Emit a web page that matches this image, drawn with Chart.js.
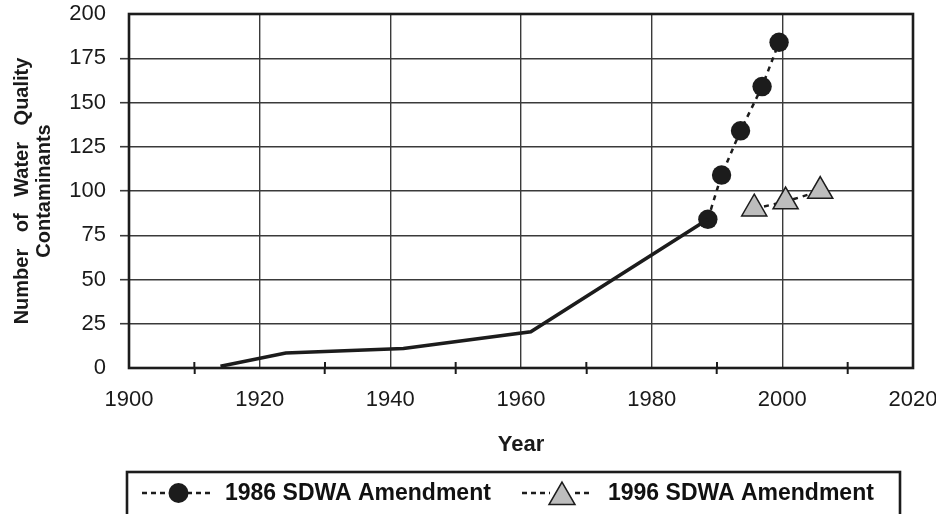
<!DOCTYPE html>
<html>
<head>
<meta charset="utf-8">
<script src="https://cdn.jsdelivr.net/npm/chart.js@4/dist/chart.umd.min.js"></script>
<style>
  html, body { margin: 0; padding: 0; background: #ffffff; }
  #wrap { width: 936px; height: 514px; }
</style>
</head>
<body>
<div id="wrap"><canvas id="c" width="936" height="514"></canvas></div>
<script>
// ---- data ----
const historyYears = [1914, 1924, 1942, 1961.5, 1988.6];
const historyCounts = [1, 8.5, 11, 20.5, 84];

const sdwa1986Years = [1988.6, 1990.7, 1993.6, 1996.9, 1999.5];
const sdwa1986Counts = [84, 109, 134, 159, 184];

const sdwa1996Years = [1995.7, 2000.5, 2005.8];
const sdwa1996Counts = [90, 94, 100];

const seriesNames = ['1986 SDWA Amendment', '1996 SDWA Amendment'];
const xTitle = 'Year';
const yTitle = ['Number of Water Quality', 'Contaminants'];
const xMin = 1900, xMax = 2020, xStep = 10, xLabelStep = 20;
const yMin = 0, yMax = 200, yStep = 25;

const pts = (xs, ys) => xs.map((x, i) => ({ x: x, y: ys[i] }));

const FONT = "'Liberation Sans', Arial, Helvetica, sans-serif";
const INK = '#1c1c1c';
const GRID = '#3a3a3a';

const framePlugin = {
  id: 'framePlugin',
  beforeDraw(chart) {
    chart.ctx.wordSpacing = '11px';
  },
  beforeDatasetsDraw(chart) {
    const ctx = chart.ctx;
    ctx.wordSpacing = '0px';
    const a = chart.chartArea;
    const xs = chart.scales.x;
    ctx.save();
    // minor ticks above x axis
    ctx.strokeStyle = INK;
    ctx.lineWidth = 2;
    for (let v = xMin + xStep; v < xMax; v += xLabelStep) {
      const px = xs.getPixelForValue(v);
      ctx.beginPath();
      ctx.moveTo(px, a.bottom - 6);
      ctx.lineTo(px, a.bottom);
      ctx.stroke();
    }
    // frame
    ctx.lineWidth = 2.6;
    ctx.strokeStyle = INK;
    ctx.strokeRect(a.left, a.top, a.right - a.left, a.bottom - a.top);
    ctx.restore();
  },
  afterDraw(chart) {
    const ctx = chart.ctx;
    ctx.save();
    ctx.wordSpacing = '0px';
    // legend box
    ctx.strokeStyle = INK;
    ctx.lineWidth = 2.6;
    ctx.strokeRect(127, 472, 773, 60);
    const ly = 493;
    const drawDash = (x1, x2) => {
      ctx.save();
      ctx.strokeStyle = INK;
      ctx.lineWidth = 2.5;
      ctx.setLineDash([5, 4]);
      ctx.beginPath();
      ctx.moveTo(x1, ly);
      ctx.lineTo(x2, ly);
      ctx.stroke();
      ctx.restore();
    };
    // item 1
    drawDash(142, 170);
    drawDash(187, 213);
    ctx.fillStyle = INK;
    ctx.strokeStyle = INK;
    Chart.helpers.drawPoint(ctx, { pointStyle: 'circle', radius: 10, borderWidth: 0, rotation: 0 }, 178.5, ly);
    // item 2
    drawDash(522, 550);
    drawDash(575, 593);
    ctx.fillStyle = '#bdbdbd';
    ctx.strokeStyle = INK;
    ctx.lineWidth = 1.5;
    Chart.helpers.drawPoint(ctx, { pointStyle: 'triangle', radius: 15, borderWidth: 1.5, rotation: 0 }, 562, 497);
    // texts
    ctx.fillStyle = '#111';
    ctx.font = "bold 23px " + FONT;
    ctx.textAlign = 'left';
    ctx.textBaseline = 'middle';
    ctx.fillText(seriesNames[0], 225, ly + 1);
    ctx.fillText(seriesNames[1], 608, ly + 1);
    ctx.restore();
  }
};

new Chart(document.getElementById('c'), {
  type: 'scatter',
  data: {
    datasets: [
      {
        label: 'History',
        data: pts(historyYears, historyCounts),
        showLine: true,
        borderColor: INK,
        borderWidth: 3.6,
        pointRadius: 0,
        pointHoverRadius: 0,
        tension: 0
      },
      {
        label: seriesNames[0],
        data: pts(sdwa1986Years, sdwa1986Counts),
        showLine: true,
        borderColor: INK,
        borderWidth: 2.5,
        borderDash: [5, 5],
        pointStyle: 'circle',
        pointRadius: 9.7,
        pointBackgroundColor: INK,
        pointBorderColor: INK,
        pointBorderWidth: 0
      },
      {
        label: seriesNames[1],
        data: pts(sdwa1996Years, sdwa1996Counts),
        showLine: true,
        borderColor: INK,
        borderWidth: 2.5,
        borderDash: [5, 5],
        pointStyle: 'triangle',
        pointRadius: 14.5,
        pointBackgroundColor: '#bdbdbd',
        pointBorderColor: INK,
        pointBorderWidth: 1.5
      }
    ]
  },
  options: {
    responsive: false,
    animation: false,
    events: [],
    layout: { autoPadding: false, padding: { left: 0, top: 14, right: 23, bottom: 55.8 } },
    plugins: {
      legend: { display: false },
      tooltip: { enabled: false }
    },
    scales: {
      x: {
        type: 'linear',
        min: xMin,
        max: xMax,
        afterFit(scale) {
          scale.height = 90.2;
          scale.paddingLeft = 0;
          scale.paddingRight = 0;
        },
        border: { display: false },
        grid: {
          drawOnChartArea: true,
          color: (c) => {
            const v = c.tick ? c.tick.value : null;
            if (v === null || v === xMin || v === xMax) return 'rgba(0,0,0,0)';
            return (v - xMin) % xLabelStep === 0 ? GRID : 'rgba(0,0,0,0)';
          },
          lineWidth: 1.4,
          tickLength: 6,
          tickWidth: 2,
          tickColor: (c) => {
            const v = c.tick ? c.tick.value : null;
            if (v === null) return 'rgba(0,0,0,0)';
            return (v - xMin) % xLabelStep === 0 ? 'rgba(0,0,0,0)' : INK;
          }
        },
        ticks: {
          stepSize: xStep,
          autoSkip: false,
          maxRotation: 0,
          padding: 13,
          color: '#1a1a1a',
          font: { family: FONT, size: 22 },
          callback: (v) => ((v - xMin) % xLabelStep === 0 ? String(v) : '')
        },
        title: {
          display: true,
          text: xTitle,
          color: '#1a1a1a',
          padding: { top: 0, bottom: 0 },
          font: { family: FONT, size: 22, weight: 'bold', lineHeight: 1.2 }
        }
      },
      y: {
        type: 'linear',
        min: yMin,
        max: yMax,
        afterFit(scale) {
          scale.width = 129;
          scale.paddingTop = 0;
          scale.paddingBottom = 0;
        },
        border: { display: false },
        grid: {
          color: (c) => {
            const v = c.tick ? c.tick.value : null;
            if (v === null || v === yMin || v === yMax) return 'rgba(0,0,0,0)';
            return GRID;
          },
          lineWidth: 1.4,
          tickLength: 9,
          tickWidth: 1.6,
          tickColor: (c) => {
            const v = c.tick ? c.tick.value : null;
            if (v === null || v === yMin || v === yMax) return 'rgba(0,0,0,0)';
            return GRID;
          }
        },
        ticks: {
          stepSize: yStep,
          padding: 14,
          color: '#1a1a1a',
          font: { family: FONT, size: 22 }
        },
        title: {
          display: true,
          text: yTitle,
          color: '#1a1a1a',
          padding: { top: 11, bottom: 0 },
          font: { family: FONT, size: 20, weight: 'bold', lineHeight: 1.1 }
        }
      }
    }
  },
  plugins: [framePlugin]
});
</script>
</body>
</html>
